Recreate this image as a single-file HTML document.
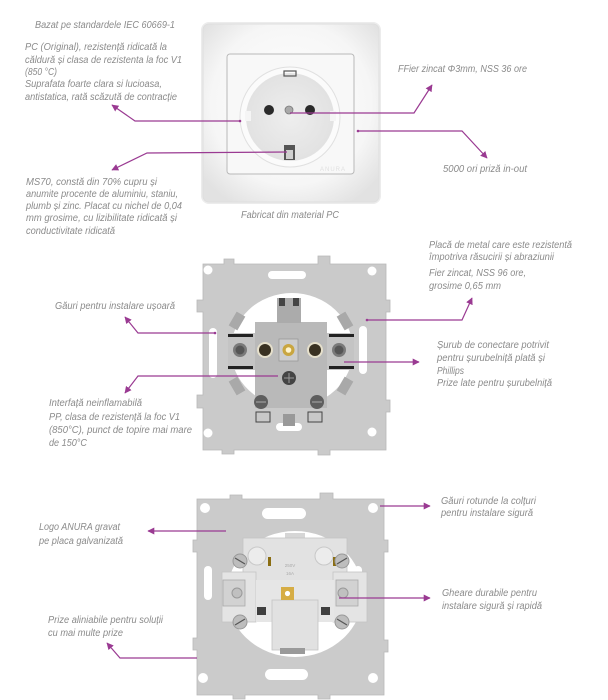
<!DOCTYPE html>
<html>
<head>
<meta charset="utf-8">
<style>
  html,body{margin:0;padding:0;background:#ffffff;}
  body{width:608px;height:700px;overflow:hidden;}
  svg{display:block;}
  .t{font-family:"Liberation Sans","DejaVu Sans",sans-serif;font-style:italic;font-size:10px;fill:#8b8b8b;}
  .c{fill:none;stroke:#9a3a92;stroke-width:1.2;}
</style>
</head>
<body>
<svg width="608" height="700" viewBox="0 0 608 700" xmlns="http://www.w3.org/2000/svg">
  <defs>
    <marker id="ah" viewBox="0 0 10 10" refX="9" refY="5" markerWidth="7" markerHeight="7" orient="auto" markerUnits="userSpaceOnUse">
      <path d="M0,0 L10,5 L0,10 Z" fill="#9a3a92"/>
    </marker>
    <radialGradient id="frameG" cx="50%" cy="45%" r="65%">
      <stop offset="0%" stop-color="#ffffff"/>
      <stop offset="70%" stop-color="#f6f6f6"/>
      <stop offset="100%" stop-color="#e2e2e2"/>
    </radialGradient>
    <radialGradient id="recess" cx="50%" cy="50%" r="50%">
      <stop offset="0%" stop-color="#eeeeee"/>
      <stop offset="100%" stop-color="#e2e2e2"/>
    </radialGradient>
  </defs>

  <!-- ============ SOCKET 1 (white frame) ============ -->
  <rect x="201" y="22" width="180" height="182" rx="8" fill="#ececec"/>
  <rect x="203" y="24" width="176" height="178" rx="6" fill="url(#frameG)" stroke="#dedede" stroke-width="1"/>
  <rect x="227" y="54" width="127" height="120" rx="3" fill="#f8f8f8" stroke="#b9b9b9" stroke-width="1"/>
  <circle cx="290" cy="117" r="50" fill="#fbfbfb" stroke="#e0e0e0"/>
  <circle cx="290" cy="117" r="44" fill="url(#recess)"/>
  <rect x="245" y="111" width="6" height="10" fill="#f5f5f5"/>
  <rect x="330" y="111" width="6" height="10" fill="#f5f5f5"/>
  <circle cx="269" cy="110" r="5" fill="#2a2a2a"/>
  <circle cx="310" cy="110" r="5" fill="#2a2a2a"/>
  <circle cx="289" cy="110" r="4" fill="#a9a9a9" stroke="#7a7a7a" stroke-width="0.8"/>
  <rect x="284" y="71" width="12" height="5" fill="none" stroke="#555" stroke-width="1.2"/>
  <rect x="284" y="145" width="11" height="15" fill="#555"/>
  <rect x="286" y="150" width="7" height="9" fill="#cfcfcf"/>
  <text x="320" y="171" style="font-family:'Liberation Sans',sans-serif;font-size:6px;fill:#e0e0e0;letter-spacing:1px">ANURA</text>

  <!-- ============ SOCKET 2 (metal plate front) ============ -->
  <path d="M203,264 H224 V259 H234 V264 H318 V256 H330 V264 H386 V300 H390 V312 H386 V400 H390 V412 H386 V450 H330 V455 H318 V450 H234 V454 H222 V450 H203 V408 H197 V395 H203 V312 H197 V300 H203 Z" fill="#cacaca" stroke="#b8b8b8" stroke-width="0.8"/>
  <ellipse cx="292" cy="350" rx="61" ry="57" fill="#ffffff"/>
  <circle cx="208" cy="270" r="4.5" fill="#fff"/>
  <circle cx="372" cy="271" r="4.5" fill="#fff"/>
  <circle cx="208" cy="433" r="4.5" fill="#fff"/>
  <circle cx="372" cy="432" r="4.5" fill="#fff"/>
  <rect x="268" y="271" width="38" height="8" rx="4" fill="#fff"/>
  <rect x="276" y="423" width="26" height="8" rx="4" fill="#fff"/>
  <rect x="209" y="328" width="8" height="50" rx="4" fill="#fff"/>
  <rect x="359" y="326" width="8" height="48" rx="4" fill="#fff"/>
  <!-- diagonal flaps -->
  <rect x="232" y="313" width="10" height="16" fill="#a9a9a9" transform="rotate(30 237 321)"/>
  <rect x="340" y="313" width="10" height="16" fill="#a9a9a9" transform="rotate(-30 345 321)"/>
  <rect x="232" y="378" width="10" height="16" fill="#a9a9a9" transform="rotate(-30 237 386)"/>
  <rect x="340" y="378" width="10" height="16" fill="#a9a9a9" transform="rotate(30 345 386)"/>
  <!-- body -->
  <rect x="255" y="322" width="72" height="86" fill="#b9b9b9"/>
  <rect x="277" y="298" width="24" height="25" fill="#ababab"/>
  <rect x="279" y="298" width="6" height="8" fill="#444"/>
  <rect x="293" y="298" width="6" height="8" fill="#444"/>
  <rect x="228" y="333" width="27" height="37" fill="#c4c4c4"/>
  <rect x="327" y="333" width="27" height="37" fill="#c4c4c4"/>
  <rect x="228" y="334" width="25" height="3" fill="#222"/>
  <rect x="228" y="366" width="25" height="3" fill="#222"/>
  <rect x="329" y="334" width="25" height="3" fill="#222"/>
  <rect x="329" y="366" width="25" height="3" fill="#222"/>
  <circle cx="240" cy="350" r="7" fill="#7a7a7a"/><circle cx="240" cy="350" r="4.5" fill="#555"/>
  <circle cx="339" cy="350" r="7" fill="#7a7a7a"/><circle cx="339" cy="350" r="4.5" fill="#555"/>
  <circle cx="265" cy="350" r="8" fill="#e6e0cc"/><circle cx="265" cy="350" r="6" fill="#3a3222"/>
  <circle cx="315" cy="350" r="8" fill="#e6e0cc"/><circle cx="315" cy="350" r="6" fill="#3a3222"/>
  <rect x="279" y="339" width="19" height="22" fill="#cdcdcd" stroke="#999" stroke-width="0.8"/>
  <circle cx="288.5" cy="350" r="6" fill="#c9a640"/><circle cx="288.5" cy="350" r="2.8" fill="#fff4cc"/>
  <circle cx="289" cy="378" r="7" fill="#444"/><path d="M284,378 H294 M289,373 V383" stroke="#999" stroke-width="1"/>
  <circle cx="261" cy="402" r="7" fill="#5e5e5e"/><path d="M256,402 H266" stroke="#aaa" stroke-width="1"/>
  <circle cx="317" cy="402" r="7" fill="#5e5e5e"/><path d="M312,402 H322" stroke="#aaa" stroke-width="1"/>
  <rect x="256" y="412" width="14" height="10" fill="#c8c8c8" stroke="#444" stroke-width="1"/>
  <rect x="308" y="412" width="14" height="10" fill="#c8c8c8" stroke="#444" stroke-width="1"/>
  <rect x="283" y="414" width="12" height="12" fill="#999"/>

  <!-- ============ SOCKET 3 (metal plate back) ============ -->
  <path d="M197,499 H230 V495 H242 V499 H320 V493 H333 V499 H384 V540 H388 V552 H384 V640 H388 V652 H384 V695 H330 V699 H318 V695 H245 V699 H233 V695 H197 V650 H193 V638 H197 V552 H193 V540 H197 Z" fill="#cbcbcb" stroke="#b8b8b8" stroke-width="0.8"/>
  <ellipse cx="295" cy="594" rx="68" ry="63" fill="#ffffff"/>
  <circle cx="205" cy="508" r="5" fill="#fff"/>
  <circle cx="373" cy="508" r="5" fill="#fff"/>
  <circle cx="203" cy="678" r="5" fill="#fff"/>
  <circle cx="373" cy="678" r="5" fill="#fff"/>
  <rect x="262" y="508" width="44" height="11" rx="5.5" fill="#fff"/>
  <rect x="265" y="669" width="43" height="11" rx="5.5" fill="#fff"/>
  <rect x="204" y="566" width="8" height="34" rx="4" fill="#fff"/>
  <rect x="354" y="566" width="8" height="34" rx="4" fill="#fff"/>
  <!-- body -->
  <rect x="285" y="533" width="20" height="14" fill="#d6d6d6"/>
  <rect x="243" y="538" width="104" height="50" fill="#e2e2e2" stroke="#c4c4c4" stroke-width="0.8"/>
  <rect x="222" y="572" width="34" height="50" fill="#e4e4e4" stroke="#c4c4c4" stroke-width="0.8"/>
  <rect x="333" y="572" width="34" height="50" fill="#e4e4e4" stroke="#c4c4c4" stroke-width="0.8"/>
  <rect x="256" y="580" width="78" height="42" fill="#e6e6e6"/>
  <rect x="272" y="600" width="46" height="50" fill="#e1e1e1" stroke="#c4c4c4" stroke-width="0.8"/>
  <circle cx="257" cy="556" r="9" fill="#ececec" stroke="#c8c8c8"/>
  <circle cx="324" cy="556" r="9" fill="#ececec" stroke="#c8c8c8"/>
  <rect x="268" y="557" width="3" height="9" fill="#8a6d12"/>
  <rect x="333" y="557" width="3" height="9" fill="#8a6d12"/>
  <circle cx="240" cy="561" r="7" fill="#bdbdbd" stroke="#999"/><path d="M235,558 L245,564" stroke="#555" stroke-width="1.2"/>
  <circle cx="342" cy="561" r="7" fill="#bdbdbd" stroke="#999"/><path d="M337,564 L347,558" stroke="#555" stroke-width="1.2"/>
  <circle cx="240" cy="622" r="7" fill="#bdbdbd" stroke="#999"/><path d="M235,625 L245,619" stroke="#555" stroke-width="1.2"/>
  <circle cx="342" cy="622" r="7" fill="#bdbdbd" stroke="#999"/><path d="M337,619 L347,625" stroke="#555" stroke-width="1.2"/>
  <rect x="223" y="580" width="22" height="26" fill="#d2d2d2" stroke="#aaa" stroke-width="0.8"/>
  <circle cx="237" cy="593" r="5" fill="#c0c0c0" stroke="#999"/>
  <rect x="336" y="580" width="22" height="26" fill="#d2d2d2" stroke="#aaa" stroke-width="0.8"/>
  <circle cx="343" cy="593" r="5" fill="#c0c0c0" stroke="#999"/>
  <rect x="281" y="587" width="13" height="13" fill="#d6ad45"/>
  <circle cx="287.5" cy="593.5" r="2.6" fill="#fff"/>
  <rect x="257" y="607" width="9" height="8" fill="#3f3f3f"/>
  <rect x="321" y="607" width="9" height="8" fill="#3f3f3f"/>
  <text x="290" y="567" text-anchor="middle" style="font-family:'Liberation Sans',sans-serif;font-size:4.5px;fill:#aaa">250V</text>
  <text x="290" y="575" text-anchor="middle" style="font-family:'Liberation Sans',sans-serif;font-size:4.5px;fill:#aaa">16A</text>
  <rect x="280" y="648" width="25" height="6" fill="#9a9a9a"/>

  <!-- ============ CONNECTORS ============ -->
  <circle cx="240" cy="121" r="1.3" fill="#9a3a92"/>
  <polyline class="c" points="240,121 135,121 112,105" marker-end="url(#ah)"/>
  <polyline class="c" points="287,152 147,153 112,170" marker-end="url(#ah)"/>
  <polyline class="c" points="290,113 414,113 432,85" marker-end="url(#ah)"/>
  <circle cx="358" cy="131" r="1.3" fill="#9a3a92"/>
  <polyline class="c" points="358,131 462,131 487,158" marker-end="url(#ah)"/>

  <circle cx="215" cy="333" r="1.3" fill="#9a3a92"/>
  <polyline class="c" points="215,333 138,333 125,317" marker-end="url(#ah)"/>
  <polyline class="c" points="278,376 138,376 125,393" marker-end="url(#ah)"/>
  <circle cx="367" cy="320" r="1.3" fill="#9a3a92"/>
  <polyline class="c" points="367,320 462,320 472,298" marker-end="url(#ah)"/>
  <polyline class="c" points="344,362 419,362" marker-end="url(#ah)"/>

  <polyline class="c" points="226,531 148,531" marker-end="url(#ah)"/>
  <polyline class="c" points="197,658 120,658 107,643" marker-end="url(#ah)"/>
  <polyline class="c" points="380,506 430,506" marker-end="url(#ah)"/>
  <polyline class="c" points="339,598 430,598" marker-end="url(#ah)"/>

  <!-- ============ LABELS ============ -->
  <text class="t" x="35" y="28" textLength="140" lengthAdjust="spacingAndGlyphs">Bazat pe standardele IEC 60669-1</text>
  <text class="t" x="25" y="50" textLength="142" lengthAdjust="spacingAndGlyphs">PC (Original), rezistență ridicată la</text>
  <text class="t" x="25" y="63" textLength="157" lengthAdjust="spacingAndGlyphs">căldură și clasa de rezistenta la foc V1</text>
  <text class="t" x="25" y="75" textLength="32" lengthAdjust="spacingAndGlyphs">(850 °C)</text>
  <text class="t" x="25" y="87" textLength="137" lengthAdjust="spacingAndGlyphs">Suprafata foarte clara si lucioasa,</text>
  <text class="t" x="25" y="100" textLength="152" lengthAdjust="spacingAndGlyphs">antistatica, rată scăzută de contracție</text>

  <text class="t" x="398" y="72" textLength="129" lengthAdjust="spacingAndGlyphs">FFier zincat Φ3mm, NSS 36 ore</text>
  <text class="t" x="443" y="172" textLength="84" lengthAdjust="spacingAndGlyphs">5000 ori priză in-out</text>
  <text class="t" x="241" y="218" textLength="98" lengthAdjust="spacingAndGlyphs">Fabricat din material PC</text>

  <text class="t" x="26" y="185" textLength="131" lengthAdjust="spacingAndGlyphs">MS70, constă din 70% cupru și</text>
  <text class="t" x="26" y="197" textLength="152" lengthAdjust="spacingAndGlyphs">anumite procente de aluminiu, staniu,</text>
  <text class="t" x="26" y="209" textLength="156" lengthAdjust="spacingAndGlyphs">plumb și zinc. Placat cu nichel de 0,04</text>
  <text class="t" x="26" y="221" textLength="151" lengthAdjust="spacingAndGlyphs">mm grosime, cu lizibilitate ridicată și</text>
  <text class="t" x="26" y="234" textLength="89" lengthAdjust="spacingAndGlyphs">conductivitate ridicată</text>

  <text class="t" x="429" y="248" textLength="143" lengthAdjust="spacingAndGlyphs">Placă de metal care este rezistentă</text>
  <text class="t" x="429" y="260" textLength="125" lengthAdjust="spacingAndGlyphs">împotriva răsucirii și abraziunii</text>
  <text class="t" x="429" y="276" textLength="97" lengthAdjust="spacingAndGlyphs">Fier zincat, NSS 96 ore,</text>
  <text class="t" x="429" y="289" textLength="72" lengthAdjust="spacingAndGlyphs">grosime 0,65 mm</text>

  <text class="t" x="55" y="309" textLength="120" lengthAdjust="spacingAndGlyphs">Găuri pentru instalare ușoară</text>

  <text class="t" x="437" y="348" textLength="112" lengthAdjust="spacingAndGlyphs">Șurub de conectare potrivit</text>
  <text class="t" x="437" y="361" textLength="108" lengthAdjust="spacingAndGlyphs">pentru șurubelniță plată și</text>
  <text class="t" x="437" y="374" textLength="27" lengthAdjust="spacingAndGlyphs">Phillips</text>
  <text class="t" x="437" y="386" textLength="115" lengthAdjust="spacingAndGlyphs">Prize late pentru șurubelniță</text>

  <text class="t" x="49" y="406" textLength="93" lengthAdjust="spacingAndGlyphs">Interfață neinflamabilă</text>
  <text class="t" x="49" y="420" textLength="131" lengthAdjust="spacingAndGlyphs">PP, clasa de rezistență la foc V1</text>
  <text class="t" x="49" y="433" textLength="143" lengthAdjust="spacingAndGlyphs">(850°C), punct de topire mai mare</text>
  <text class="t" x="49" y="446" textLength="38" lengthAdjust="spacingAndGlyphs">de 150°C</text>

  <text class="t" x="441" y="504" textLength="95" lengthAdjust="spacingAndGlyphs">Găuri rotunde la colțuri</text>
  <text class="t" x="441" y="516" textLength="92" lengthAdjust="spacingAndGlyphs">pentru instalare sigură</text>

  <text class="t" x="39" y="530" textLength="81" lengthAdjust="spacingAndGlyphs">Logo ANURA gravat</text>
  <text class="t" x="39" y="544" textLength="84" lengthAdjust="spacingAndGlyphs">pe placa galvanizată</text>

  <text class="t" x="442" y="596" textLength="95" lengthAdjust="spacingAndGlyphs">Gheare durabile pentru</text>
  <text class="t" x="442" y="609" textLength="100" lengthAdjust="spacingAndGlyphs">instalare sigură și rapidă</text>

  <text class="t" x="48" y="623" textLength="115" lengthAdjust="spacingAndGlyphs">Prize aliniabile pentru soluții</text>
  <text class="t" x="48" y="636" textLength="75" lengthAdjust="spacingAndGlyphs">cu mai multe prize</text>
</svg>
</body>
</html>
